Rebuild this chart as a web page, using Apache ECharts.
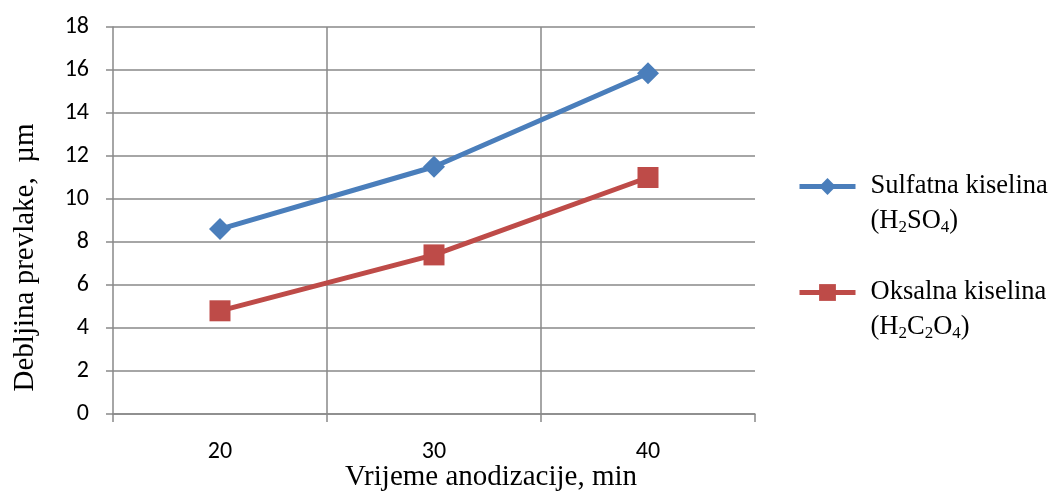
<!DOCTYPE html>
<html>
<head>
<meta charset="utf-8">
<script src="https://cdn.jsdelivr.net/npm/echarts@6/dist/echarts.min.js"></script>
<style>
  html, body { margin: 0; padding: 0; background: #fff; }
  #chart-container { width: 1056px; height: 491px; }
</style>
</head>
<body>
<div id="chart-container"></div>
<script>
// data
const times = ["20", "30", "40"];
const sulfatna = [8.6, 11.5, 15.85];
const oksalna = [4.8, 7.4, 11.0];
const yTicks = { min: 0, max: 18, interval: 2 };

var dom = document.getElementById("chart-container");
var myChart = echarts.init(dom, null, { renderer: "canvas" });

const grey = "#898989";
const serif = "'Liberation Serif', 'DejaVu Serif', serif";
const sans = "Carlito, Lato, 'Open Sans', sans-serif";

// rich styles for the subscript formulas in legend
const rich = {
  a: { fontFamily: serif, fontSize: 26.5, color: "#000", lineHeight: 35 },
  s: { fontFamily: serif, fontSize: 17, color: "#000", lineHeight: 35, padding: [12, 0, 0, 0] }
};
const legendText = {
  "Sulfatna kiselina": "{a|Sulfatna kiselina}\n{a|(H}{s|2}{a|SO}{s|4}{a|)}",
  "Oksalna kiselina": "{a|Oksalna kiselina}\n{a|(H}{s|2}{a|C}{s|2}{a|O}{s|4}{a|)}"
};

function makeLegend(name, top) {
  return {
    data: [name],
    orient: "vertical",
    left: 797,
    top: top,
    padding: 0,
    itemWidth: 56,
    itemHeight: 21,
    itemGap: 0,
    lineStyle: { width: 5 },
    formatter: function (n) { return legendText[n]; },
    textStyle: { rich: rich, padding: [35, 0, 0, 10] }
  };
}

var option = {
  backgroundColor: "#fff",
  animation: false,
  color: ["#4A7EBB", "#BE4B48"],
  grid: { left: 113, right: 301, top: 27, bottom: 77, containLabel: false, outerBoundsMode: "none" },
  legend: [makeLegend("Sulfatna kiselina", 173), makeLegend("Oksalna kiselina", 279)],
  xAxis: {
    type: "category",
    data: times,
    boundaryGap: true,
    name: "Vrijeme anodizacije, min",
    nameLocation: "middle",
    nameGap: 49,
    nameMoveOverlap: false,
    nameTextStyle: { fontFamily: serif, fontSize: 29, color: "#000", padding: [0, 0, 0, 114] },
    axisLine: { lineStyle: { color: grey, width: 1.5 } },
    axisTick: { show: true, interval: 0, length: 8, lineStyle: { color: grey, width: 1.5 } },
    axisLabel: { margin: 26, fontFamily: sans, fontSize: 24, color: "#000" },
    splitLine: { show: true, showMinLine: false, showMaxLine: false, interval: 0, lineStyle: { color: grey, width: 1.5 } }
  },
  yAxis: {
    type: "value",
    min: yTicks.min,
    max: yTicks.max,
    interval: yTicks.interval,
    name: "Debljina prevlake,  µm",
    nameLocation: "middle",
    nameGap: 73,
    nameMoveOverlap: false,
    nameTextStyle: { fontFamily: serif, fontSize: 29, color: "#000", padding: [0, 74, 0, 0] },
    axisLine: { show: true, lineStyle: { color: grey, width: 1.5 } },
    axisTick: { show: true, length: 7, lineStyle: { color: grey, width: 1.5 } },
    axisLabel: { margin: 24, fontFamily: sans, fontSize: 24, color: "#000" },
    splitLine: { show: true, lineStyle: { color: grey, width: 1.5 } }
  },
  series: [
    {
      name: "Sulfatna kiselina",
      type: "line",
      data: sulfatna,
      symbol: "diamond",
      symbolSize: 22,
      lineStyle: { width: 5 },
      itemStyle: { color: "#4A7EBB" }
    },
    {
      name: "Oksalna kiselina",
      type: "line",
      data: oksalna,
      symbol: "rect",
      symbolSize: 21,
      lineStyle: { width: 5 },
      itemStyle: { color: "#BE4B48" }
    }
  ]
};

myChart.setOption(option);
window.addEventListener("resize", myChart.resize);
</script>
</body>
</html>
